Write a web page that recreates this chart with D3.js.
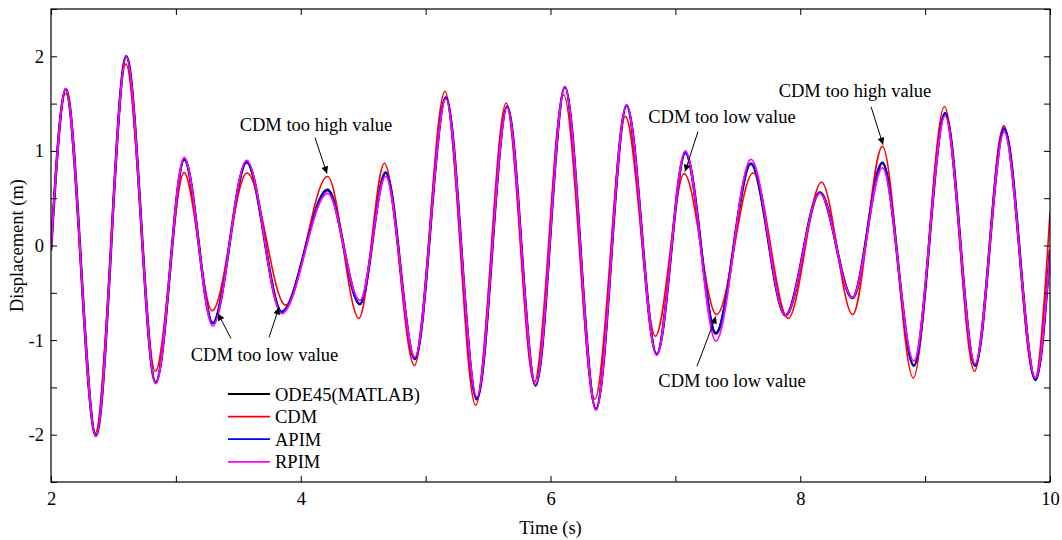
<!DOCTYPE html>
<html>
<head>
<meta charset="utf-8">
<script src="https://cdn.jsdelivr.net/npm/d3@7"></script>
<style>
  body { margin: 0; background: #fff; }
  svg text { font-family: "Liberation Serif", "Times New Roman", serif; fill: #000; }
</style>
</head>
<body>
<svg id="chart" width="1062" height="540"></svg>
<script>
// extrema of the response (time in s, displacement in m)
var refTime  = [2.00, 2.118, 2.36, 2.603, 2.838, 3.067, 3.295, 3.567, 3.847, 4.215, 4.474, 4.68, 4.914, 5.162, 5.41, 5.653, 5.881, 6.115, 6.364, 6.609, 6.85, 7.08, 7.324, 7.605, 7.882, 8.157, 8.418, 8.658, 8.91, 9.16, 9.40, 9.633, 9.884, 10.0];
var odeDisp  = [-0.05, 1.654, -2.01, 2.0, -1.45, 0.91, -0.82, 0.88, -0.70, 0.59, -0.62, 0.77, -1.20, 1.565, -1.625, 1.47, -1.48, 1.675, -1.73, 1.48, -1.15, 0.98, -0.93, 0.865, -0.74, 0.56, -0.555, 0.873, -1.27, 1.40, -1.27, 1.235, -1.42, -0.05];
var apimDisp = [-0.05, 1.654, -2.01, 2.0, -1.45, 0.91, -0.82, 0.88, -0.70, 0.58, -0.62, 0.767, -1.20, 1.565, -1.625, 1.47, -1.48, 1.675, -1.73, 1.48, -1.15, 0.978, -0.92, 0.865, -0.735, 0.556, -0.552, 0.873, -1.27, 1.40, -1.27, 1.24, -1.42, -0.05];
var rpimDisp = [-0.06, 1.66, -2.02, 2.0, -1.46, 0.93, -0.85, 0.90, -0.72, 0.55, -0.58, 0.73, -1.18, 1.55, -1.60, 1.46, -1.47, 1.68, -1.74, 1.49, -1.16, 1.0, -1.01, 0.91, -0.74, 0.55, -0.55, 0.82, -1.22, 1.37, -1.25, 1.20, -1.40, -0.06];
var cdmTime  = [2.00, 2.118, 2.355, 2.60, 2.835, 3.065, 3.29, 3.57, 3.879, 4.215, 4.466, 4.67, 4.91, 5.155, 5.40, 5.645, 5.87, 6.105, 6.355, 6.60, 6.84, 7.07, 7.33, 7.623, 7.903, 8.17, 8.42, 8.658, 8.905, 9.155, 9.395, 9.63, 9.878, 10.0];
var cdmDisp  = [0.0, 1.61, -1.98, 1.92, -1.33, 0.77, -0.69, 0.767, -0.63, 0.73, -0.77, 0.87, -1.27, 1.63, -1.69, 1.505, -1.45, 1.594, -1.625, 1.365, -0.96, 0.76, -0.73, 0.767, -0.77, 0.668, -0.73, 1.048, -1.40, 1.47, -1.33, 1.267, -1.41, 0.35];

var seriesNames = ["ODE45(MATLAB)", "CDM", "APIM", "RPIM"];
var xTicks = [2, 3, 4, 5, 6, 7, 8, 9, 10];
var yTicks = [-2.5, -2, -1.5, -1, -0.5, 0, 0.5, 1, 1.5, 2, 2.5];

var annotations = [
  { text: "CDM too high value", at: [4.122, 1.214], arrows: [[[4.114, 1.14], [4.21, 0.76]]] },
  { text: "CDM too low value",  at: [7.373, 1.298], arrows: [[[7.181, 1.203], [7.077, 0.781]]] },
  { text: "CDM too high value", at: [8.438, 1.572], arrows: [[[8.567, 1.467], [8.663, 1.066]]] },
  { text: "CDM too low value",  at: [3.71, -1.224], arrows: [[[3.441, -0.982], [3.337, -0.718]], [[3.746, -0.971], [3.826, -0.654]]] },
  { text: "CDM too low value",  at: [7.454, -1.499], arrows: [[[7.173, -1.277], [7.325, -0.749]]] }
];

var svg = d3.select("#chart");
var plotL = 51, plotR = 1050, plotT = 9, plotB = 482;

var x = d3.scaleLinear().domain([2, 10]).range([plotL, plotR]);
var y = d3.scaleLinear().domain([-2.5, 2.5]).range([plotB, plotT]);

function pairs(ts, ys) { return ts.map(function(t, i) { return [t, ys[i]]; }); }

var series = [
  { name: seriesNames[0], color: "#000000", width: 2.6, pts: pairs(refTime, odeDisp) },
  { name: seriesNames[1], color: "#ff0000", width: 1.6, pts: pairs(cdmTime, cdmDisp) },
  { name: seriesNames[2], color: "#0000ff", width: 1.8, pts: pairs(refTime, apimDisp) },
  { name: seriesNames[3], color: "#ff00ff", width: 1.8, pts: pairs(refTime, rpimDisp) }
];

var defs = svg.append("defs");
defs.append("clipPath").attr("id", "plot-clip")
  .append("rect").attr("x", plotL).attr("y", plotT).attr("width", plotR - plotL).attr("height", plotB - plotT);

defs.append("marker")
  .attr("id", "arrowhead")
  .attr("viewBox", "0 0 10 10")
  .attr("refX", 10).attr("refY", 5)
  .attr("markerWidth", 9).attr("markerHeight", 7)
  .attr("markerUnits", "userSpaceOnUse")
  .attr("orient", "auto")
  .append("path").attr("d", "M0,0 L10,5 L0,10 Z").attr("fill", "#000");

var line = d3.line()
  .x(function(d) { return x(d[0]); })
  .y(function(d) { return y(d[1]); })
  .curve(d3.curveMonotoneX);

svg.append("g").attr("clip-path", "url(#plot-clip)")
  .selectAll("path")
  .data(series)
  .enter().append("path")
    .attr("d", function(d) { return line(d.pts); })
    .attr("fill", "none")
    .attr("stroke", function(d) { return d.color; })
    .attr("stroke-width", function(d) { return d.width; })
    .attr("stroke-linejoin", "round");

// axes, ticks pointing inward on all four sides
var fontSize = "18.5px";
var xAxis = d3.axisBottom(x).tickValues(xTicks).tickSizeInner(-6).tickSizeOuter(0).tickPadding(10)
  .tickFormat(function(d) { return d % 2 === 0 ? d : ""; });
var yAxis = d3.axisLeft(y).tickValues(yTicks).tickSizeInner(-6).tickSizeOuter(0).tickPadding(7)
  .tickFormat(function(d) { return Number.isInteger(d) && Math.abs(d) < 2.5 ? d : ""; });

var gx = svg.append("g").attr("transform", "translate(0," + plotB + ")").call(xAxis);
var gy = svg.append("g").attr("transform", "translate(" + plotL + ",0)").call(yAxis);
svg.append("g").attr("transform", "translate(0," + plotT + ")")
  .call(d3.axisTop(x).tickValues(xTicks).tickSizeInner(-6).tickSizeOuter(0).tickFormat(""));
svg.append("g").attr("transform", "translate(" + plotR + ",0)")
  .call(d3.axisRight(y).tickValues(yTicks).tickSizeInner(-6).tickSizeOuter(0).tickFormat(""));

svg.selectAll(".domain").remove();
svg.selectAll(".tick line").attr("stroke", "#000");
[gx, gy].forEach(function(g) {
  g.selectAll("text").style("font-family", "Liberation Serif").style("font-size", fontSize).attr("fill", "#000");
});

svg.append("rect")
  .attr("x", plotL).attr("y", plotT)
  .attr("width", plotR - plotL).attr("height", plotB - plotT)
  .attr("fill", "none").attr("stroke", "#000").attr("stroke-width", 1.2);

svg.append("text")
  .attr("x", (plotL + plotR) / 2).attr("y", 534)
  .attr("text-anchor", "middle").style("font-size", fontSize)
  .text("Time (s)");

svg.append("text")
  .attr("transform", "translate(23," + ((plotT + plotB) / 2) + ") rotate(-90)")
  .attr("text-anchor", "middle").style("font-size", fontSize)
  .text("Displacement (m)");

// annotations
var ann = svg.append("g");
annotations.forEach(function(a) {
  ann.append("text")
    .attr("x", x(a.at[0])).attr("y", y(a.at[1]))
    .attr("text-anchor", "middle").style("font-size", fontSize)
    .text(a.text);
  a.arrows.forEach(function(ar) {
    ann.append("line")
      .attr("x1", x(ar[0][0])).attr("y1", y(ar[0][1]))
      .attr("x2", x(ar[1][0])).attr("y2", y(ar[1][1]))
      .attr("stroke", "#000").attr("stroke-width", 1)
      .attr("marker-end", "url(#arrowhead)");
  });
});

// legend
var legend = svg.append("g").attr("transform", "translate(228,394)");
series.forEach(function(s, i) {
  var row = legend.append("g").attr("transform", "translate(0," + (i * 22.6) + ")");
  row.append("line").attr("x1", 0).attr("x2", 42).attr("y1", 0).attr("y2", 0)
    .attr("stroke", s.color).attr("stroke-width", 1.8);
  row.append("text").attr("x", 47).attr("y", 6.5).style("font-size", fontSize).text(s.name);
});
</script>
</body>
</html>
